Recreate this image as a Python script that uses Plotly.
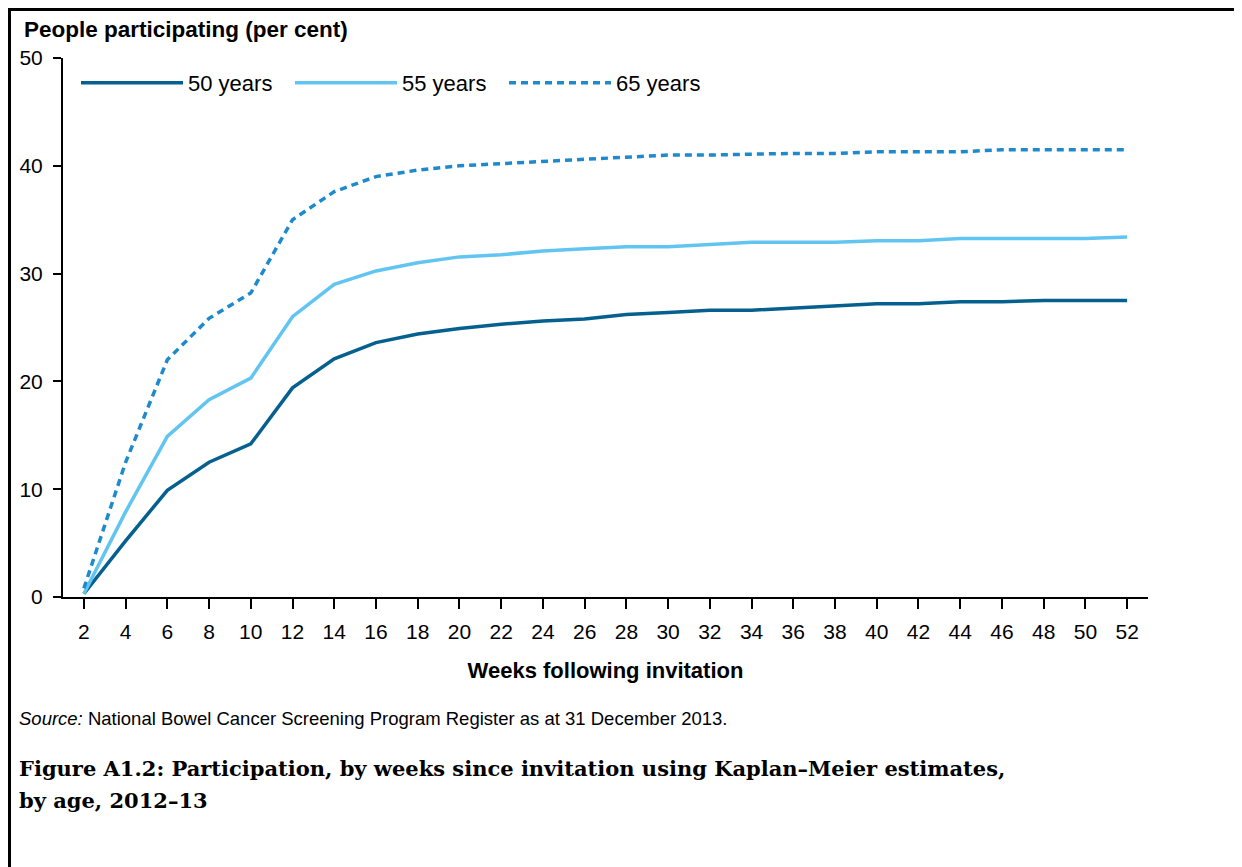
import plotly.graph_objects as go

# weeks following invitation
weeks = list(range(2, 54, 2))

# people participating (per cent)
age_50 = [0.3, 5.2, 9.9, 12.5, 14.2, 19.4, 22.1, 23.6, 24.4, 24.9, 25.3, 25.6, 25.8, 26.2, 26.4,
          26.6, 26.6, 26.8, 27.0, 27.2, 27.2, 27.4, 27.4, 27.5, 27.5, 27.5]
age_55 = [0.3, 7.9, 14.9, 18.3, 20.3, 26.0, 29.0, 30.25, 31.0, 31.55, 31.75, 32.1, 32.3, 32.5, 32.5,
          32.7, 32.9, 32.9, 32.9, 33.05, 33.05, 33.25, 33.25, 33.25, 33.25, 33.4]
age_65 = [0.8, 12.5, 22.0, 25.85, 28.2, 35.0, 37.6, 39.0, 39.6, 40.0, 40.2, 40.4, 40.6, 40.8, 41.0,
          41.0, 41.1, 41.15, 41.15, 41.3, 41.3, 41.3, 41.5, 41.5, 41.5, 41.5]

series_names = ["50 years", "55 years", "65 years"]
series_colors = ["#05608f", "#62c5f1", "#1e8ace"]
series_dash = ["solid", "solid", "7px,5px"]

caption_lines = ["<b>Figure A1.2: Participation, by weeks since invitation using Kaplan–Meier estimates,</b>",
                 "<b>by age, 2012–13</b>"]

# the page has an 8px body margin, so the figure is a bit smaller than the window
W, H = 1234, 859
L, R, T, B = 55, 94, 50, 270
pw, ph = W - L - R, H - T - B


def px(x):
    return (x - L) / pw


def py(y):
    return (H - B - y) / ph


fig = go.Figure()
for name, vals, col, dash in zip(series_names, [age_50, age_55, age_65], series_colors, series_dash):
    fig.add_trace(go.Scatter(x=weeks, y=vals, mode="lines", name=name,
                             line=dict(color=col, width=3.5, dash=dash)))

font = "Liberation Sans, Arial, sans-serif"

fig.update_layout(
    width=W, height=H,
    margin=dict(l=L, r=R, t=T, b=B),
    paper_bgcolor="white", plot_bgcolor="white",
    font=dict(family=font, size=21, color="black"),
    showlegend=True,
    legend=dict(orientation="h", x=px(68), y=py(75), xanchor="left", yanchor="middle",
                itemwidth=102, entrywidth=97, entrywidthmode="pixels",
                bgcolor="rgba(0,0,0,0)", font=dict(size=22), itemclick=False),
    xaxis=dict(range=[1, 53], tickvals=weeks, showline=True, linecolor="black", linewidth=2,
               ticks="outside", ticklen=10, tickwidth=2, tickcolor="black",
               showgrid=False, zeroline=False, ticklabelstandoff=5,
               title=dict(text="<b>Weeks following invitation</b>", font=dict(size=22), standoff=20)),
    yaxis=dict(range=[0, 50], dtick=10, showline=True, linecolor="black", linewidth=2,
               ticks="outside", ticklen=8, tickwidth=2, tickcolor="black",
               showgrid=False, zeroline=False, ticklabelstandoff=6),
)

fig.add_annotation(text="<b>People participating (per cent)</b>", xref="paper", yref="paper",
                   x=px(14), y=py(22), xanchor="left", yanchor="middle", showarrow=False,
                   font=dict(size=22.5))
fig.add_annotation(text="<i>Source:</i> National Bowel Cancer Screening Program Register as at 31 December 2013.",
                   xref="paper", yref="paper", x=px(9), y=py(710), xanchor="left", yanchor="middle",
                   showarrow=False, font=dict(size=18.5))
for i, line in enumerate(caption_lines):
    fig.add_annotation(text=line, xref="paper", yref="paper", x=px(9), y=py(760 + 32 * i),
                       xanchor="left", yanchor="middle", align="left", showarrow=False,
                       font=dict(family="DejaVu Serif, serif", size=21))

# frame around the figure (left and top edges)
fig.add_shape(type="line", xref="paper", yref="paper", x0=px(1.5), x1=px(1.5), y0=py(0), y1=py(H),
              line=dict(color="black", width=3))
fig.add_shape(type="line", xref="paper", yref="paper", x0=px(0), x1=px(W), y0=py(1.5), y1=py(1.5),
              line=dict(color="black", width=3))

fig.write_html("out.html")
